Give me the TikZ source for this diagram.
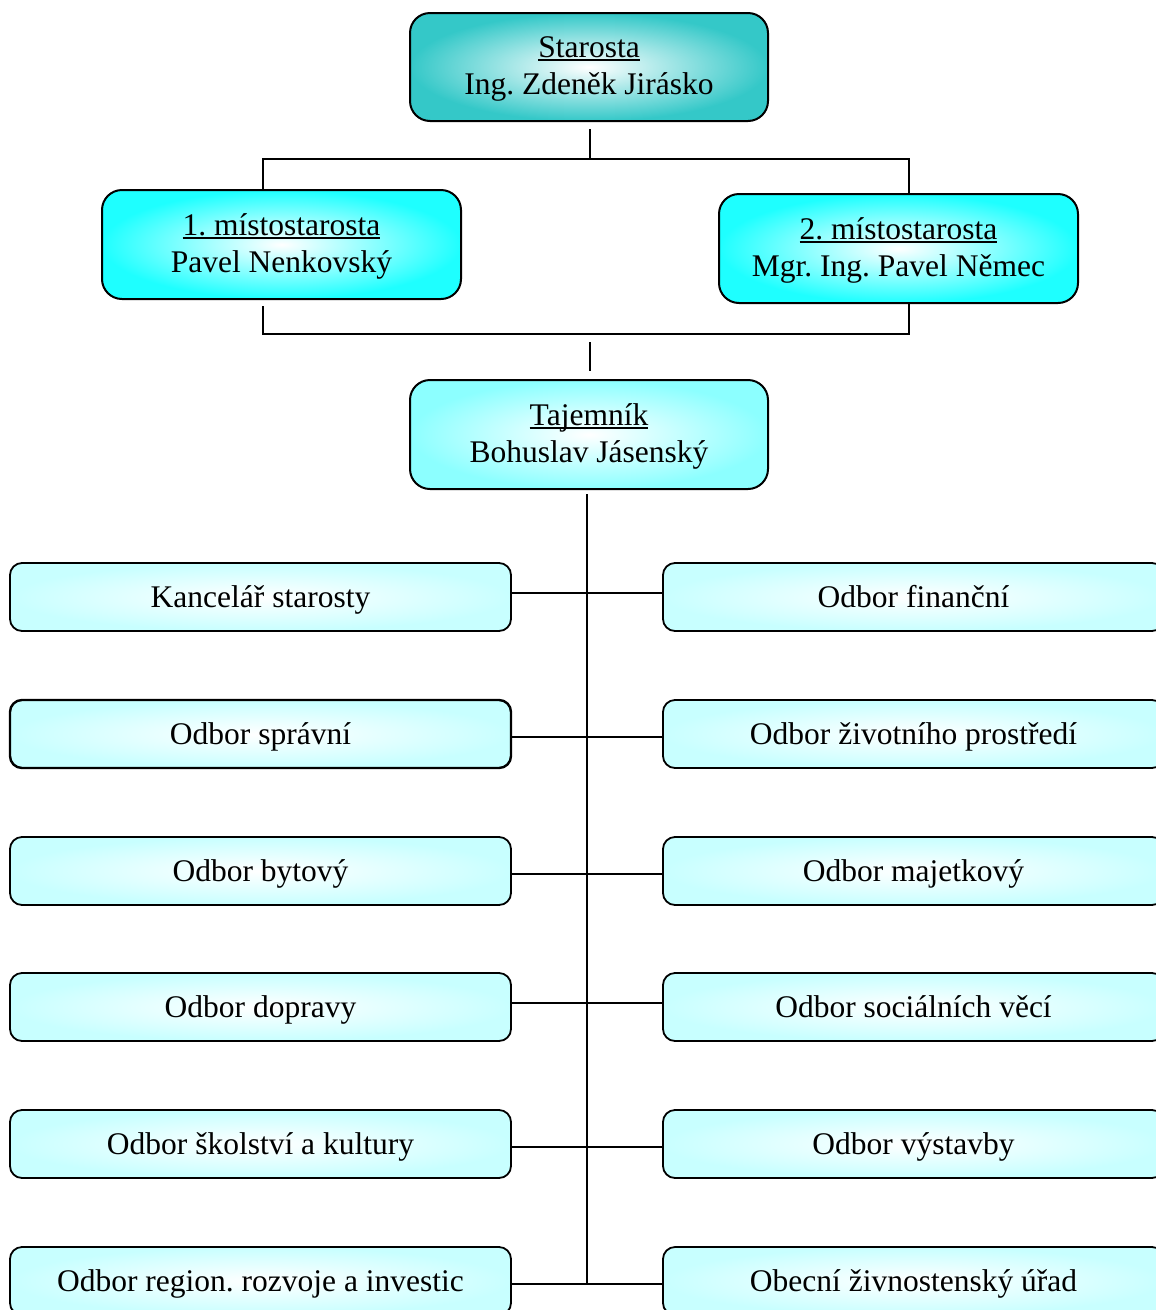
\documentclass[tikz,border=0pt]{standalone}
\usepackage{fontspec}
\setmainfont{Liberation Serif}
\frenchspacing
\definecolor{starostaOut}{RGB}{52,200,200}
\definecolor{mistOut}{RGB}{30,255,255}
\definecolor{tajOut}{RGB}{140,255,255}
\definecolor{deptOut}{RGB}{200,255,255}
\newcommand\myul[1]{{\setbox0\hbox{#1}\rlap{\raisebox{-3.2pt}{\rule{\wd0}{1.8pt}}}\box0}}
\tikzset{
  conn/.style={line width=2pt, black},
  bigbox/.style={draw=black, line width=2pt, rounded corners=20pt,
    minimum width=358pt, minimum height=108pt, inner sep=0pt,
    text depth=2pt,
    align=center, font=\fontsize{31.5}{37}\selectfont},
  deptbox/.style={draw=black, line width=1.8pt, rounded corners=12pt,
    minimum width=501pt, minimum height=68pt, inner sep=0pt,
    text height=26pt, text depth=6pt,
    inner color=white, outer color=deptOut,
    font=\fontsize{31.5}{37}\selectfont},
}
\begin{document}
\begin{tikzpicture}[x=1pt,y=-1pt]
\useasboundingbox (0,0) rectangle (1156,1310);
\clip (0,0) rectangle (1156,1310);

% top boxes
\node[bigbox, inner color=white, outer color=starostaOut] (starosta) at (589,67)
  {\myul{Starosta}\\Ing. Zdeněk Jirásko};
\node[bigbox, inner color=white, outer color=mistOut, minimum width=359pt, minimum height=109pt] (m1) at (281.5,244.5)
  {\myul{1. místostarosta}\\Pavel Nenkovský};
\node[bigbox, inner color=white, outer color=mistOut, minimum width=359pt, minimum height=109pt] (m2) at (898.5,248.5)
  {\myul{2. místostarosta}\\Mgr. Ing. Pavel Němec};
\node[bigbox, inner color=white, outer color=tajOut, minimum height=109pt] (taj) at (589,434.5)
  {\myul{Tajemník}\\Bohuslav Jásenský};

% departments
\node[deptbox] (L1) at (260.5,597) {Kancelář starosty};
\node[deptbox, line width=2.4pt] (L2) at (260.5,734) {Odbor správní};
\node[deptbox] (L3) at (260.5,871) {Odbor bytový};
\node[deptbox] (L4) at (260.5,1007) {Odbor dopravy};
\node[deptbox] (L5) at (260.5,1144) {Odbor školství a kultury};
\node[deptbox] (L6) at (260.5,1281) {Odbor region. rozvoje a investic};

\node[deptbox] (R1) at (913.5,597) {Odbor finanční};
\node[deptbox] (R2) at (913.5,734) {Odbor životního prostředí};
\node[deptbox] (R3) at (913.5,871) {Odbor majetkový};
\node[deptbox] (R4) at (913.5,1007) {Odbor sociálních věcí};
\node[deptbox] (R5) at (913.5,1144) {Odbor výstavby};
\node[deptbox] (R6) at (913.5,1281) {Obecní živnostenský úřad};

% connector coordinates
\coordinate (hTop) at (590,159);
\coordinate (lx) at (263,0);
\coordinate (rx) at (909,0);
\coordinate (hMid) at (590,334);
\coordinate (tajIn) at (590,342);
\coordinate (spineTop) at (587,494);
\coordinate (spineEnd) at (587,1284);

% starosta to deputies
\draw[conn] ([yshift=-7pt]starosta.south -| hTop) -- (hTop);
\draw[conn] (m1.north -| lx) |- (hTop) -| (m2.north -| rx);
% deputies to tajemnik
\draw[conn] ([yshift=-6pt]m1.south -| lx) |- (hMid) -| (m2.south -| rx);
\draw[conn] (tajIn) -- ([yshift=8pt]taj.north -| tajIn);
% spine
\draw[conn] (spineTop) -- (spineEnd);
% department connectors
\foreach \i/\dy in {1/4,2/-3,3/-3,4/4,5/-3,6/-2.5} {
  \draw[conn] ([yshift=\dy pt]L\i.east) -- ([yshift=\dy pt]R\i.west);
}
\end{tikzpicture}
\end{document}
